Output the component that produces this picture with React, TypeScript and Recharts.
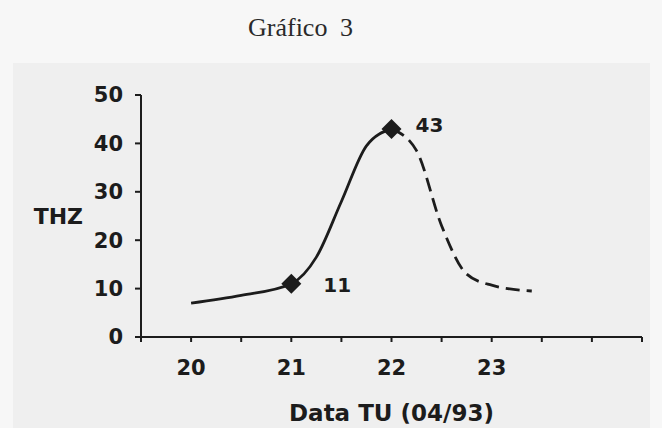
import { LineChart, Line, XAxis, YAxis, Label } from "recharts";

// curve: solid up to the peak, dashed afterwards
const solidDays = [20, 20.5, 21, 21.25, 21.5, 21.75, 22];
const solidThz = [7, 8.6, 11, 16.5, 28, 39.5, 43];
const dashedDays = [22, 22.25, 22.5, 22.75, 23, 23.4];
const dashedThz = [43, 38.5, 23, 13, 10.7, 9.5];

const markedDays = [21, 22];
const xTicks = [19.5, 20, 20.5, 21, 21.5, 22, 22.5, 23, 23.5, 24, 24.5];
const xLabels = [20, 21, 22, 23];
const yTicks = [0, 10, 20, 30, 40, 50];

const solidRows = solidDays.map((x, i) => ({ x, y: solidThz[i] }));
const dashedRows = dashedDays.map((x, i) => ({ x, y: dashedThz[i] }));

const ink = "#1c1c1c";
const bold = "'DejaVu Sans', sans-serif";

function Diamond(props: any) {
  const { cx, cy, payload, index } = props;
  if (!markedDays.includes(payload.x)) return <g key={`d-${index}`} />;
  const r = 10;
  const peak = payload.y > 30;
  return (
    <g key={`d-${index}`}>
      <polygon
        points={`${cx},${cy - r} ${cx + r},${cy} ${cx},${cy + r} ${cx - r},${cy}`}
        fill={ink}
      />
      <text
        x={cx + (peak ? 24 : 32)}
        y={cy + (peak ? 3 : 8)}
        fill={ink}
        fontFamily={bold}
        fontWeight="bold"
        fontSize={20}
      >
        {payload.y}
      </text>
    </g>
  );
}

export default function App() {
  return (
    <div style={{ position: "absolute", left: 0, top: 0, width: 662, height: 428, background: "#f7f7f7", overflow: "hidden" }}>
      <div style={{ position: "absolute", left: 13, top: 63, width: 637, height: 365, background: "#efefef" }} />
      <div
        style={{
          position: "absolute",
          left: 248,
          top: 13,
          fontFamily: "'Liberation Serif', serif",
          fontSize: 26,
          color: "#2a2a2a",
          wordSpacing: 6,
          whiteSpace: "nowrap",
        }}
      >
        Gráfico 3
      </div>
      <div style={{ position: "absolute", left: 0, top: 0 }}>
        <LineChart width={662} height={428} margin={{ top: 95, right: 20, bottom: 61, left: 81 }}>
          <XAxis
            type="number"
            dataKey="x"
            domain={[19.5, 24.5]}
            ticks={xTicks}
            interval={0}
            allowDuplicatedCategory={false}
            height={30}
            tickSize={5}
            tickMargin={18}
            axisLine={{ stroke: ink, strokeWidth: 2 }}
            tickLine={{ stroke: ink, strokeWidth: 2 }}
            tickFormatter={(v: number) => (xLabels.includes(v) ? String(v) : "")}
            tick={{ fill: ink, fontFamily: bold, fontWeight: "bold", fontSize: 21 }}
          >
            <Label
              value="Data TU (04/93)"
              position="bottom"
              offset={38}
              fill={ink}
              fontFamily={bold}
              fontWeight="bold"
              fontSize={23}
            />
          </XAxis>
          <YAxis
            type="number"
            domain={[0, 50]}
            ticks={yTicks}
            interval={0}
            width={60}
            tickSize={6}
            tickMargin={12}
            axisLine={{ stroke: ink, strokeWidth: 2 }}
            tickLine={{ stroke: ink, strokeWidth: 2 }}
            tick={{ fill: ink, fontFamily: bold, fontWeight: "bold", fontSize: 21 }}
          >
            <Label
              value="THZ"
              position="left"
              offset={-2}
              fill={ink}
              fontFamily={bold}
              fontWeight="bold"
              fontSize={22}
            />
          </YAxis>
          <Line
            data={solidRows}
            dataKey="y"
            type="monotone"
            stroke={ink}
            strokeWidth={2.8}
            dot={Diamond}
            activeDot={false}
            isAnimationActive={false}
          />
          <Line
            data={dashedRows}
            dataKey="y"
            type="monotone"
            stroke={ink}
            strokeWidth={2.8}
            strokeDasharray="14 7"
            dot={false}
            activeDot={false}
            isAnimationActive={false}
          />
        </LineChart>
      </div>
    </div>
  );
}
